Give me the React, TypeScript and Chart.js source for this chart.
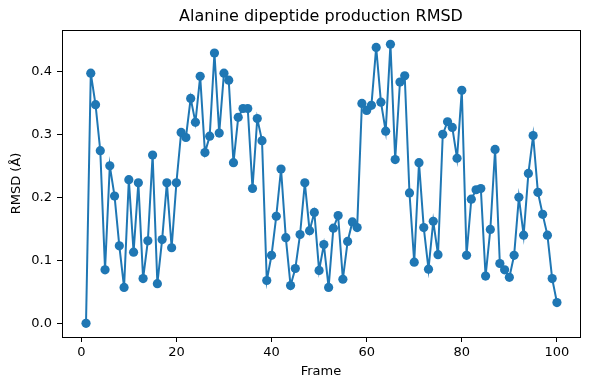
import React, { useEffect, useRef } from "react";
import { Chart, registerables } from "chart.js";

Chart.register(...registerables);

const frames: number[] = Array.from({ length: 100 }, (_, i) => i + 1);
const rmsd: number[] = [
  0.0, 0.397, 0.347, 0.274, 0.085, 0.25, 0.202, 0.123, 0.057, 0.228,
  0.113, 0.223, 0.071, 0.131, 0.267, 0.063, 0.133, 0.223, 0.12, 0.223,
  0.303, 0.295, 0.357, 0.319, 0.392, 0.271, 0.297, 0.429, 0.302, 0.397,
  0.386, 0.255, 0.327, 0.341, 0.341, 0.214, 0.325, 0.29, 0.068, 0.108,
  0.17, 0.245, 0.136, 0.06, 0.087, 0.141, 0.223, 0.147, 0.176, 0.084,
  0.125, 0.057, 0.151, 0.171, 0.07, 0.13, 0.161, 0.152, 0.349, 0.338,
  0.346, 0.438, 0.351, 0.305, 0.443, 0.26, 0.383, 0.393, 0.207, 0.097,
  0.255, 0.152, 0.086, 0.162, 0.109, 0.3, 0.32, 0.311, 0.262, 0.37,
  0.108, 0.197, 0.212, 0.214, 0.075, 0.149, 0.276, 0.095, 0.085, 0.073,
  0.108, 0.2, 0.14, 0.238, 0.298, 0.208, 0.173, 0.14, 0.071, 0.033,
];
const xTicks: number[] = [0, 20, 40, 60, 80, 100];
const yTicks: number[] = [0.0, 0.1, 0.2, 0.3, 0.4];
const titleText = "Alanine dipeptide production RMSD";
const xLabel = "Frame";
const yLabel = "RMSD (Å)";

const FONT = "'DejaVu Sans', sans-serif";

const decorPlugin = {
  id: "decor",
  afterDraw(chart: any) {
    const { ctx, chartArea } = chart;
    const { left, right, top, bottom } = chartArea;
    ctx.save();
    ctx.strokeStyle = "#000";
    ctx.lineWidth = 1;
    ctx.strokeRect(Math.round(left) + 0.5, Math.round(top) + 0.5, Math.round(right - left), Math.round(bottom - top));
    ctx.fillStyle = "#000";
    ctx.textAlign = "center";
    ctx.textBaseline = "middle";
    ctx.font = `16px ${FONT}`;
    ctx.fillText(titleText, (left + right) / 2, 17);
    ctx.font = `13px ${FONT}`;
    ctx.fillText(xLabel, (left + right) / 2, 372);
    ctx.translate(17, (top + bottom) / 2);
    ctx.rotate(-Math.PI / 2);
    ctx.fillText(yLabel, 0, 0);
    ctx.restore();
  },
};

export default function App() {
  const ref = useRef<HTMLCanvasElement | null>(null);
  useEffect(() => {
    document.body.style.margin = "0";
    const canvas = ref.current!;
    const chart = new Chart(canvas, {
      type: "line",
      data: {
        datasets: [
          {
            data: frames.map((f, i) => ({ x: f, y: rmsd[i] })),
            borderColor: "#1f77b4",
            backgroundColor: "#1f77b4",
            borderWidth: 2,
            pointRadius: 4.6,
            pointBorderWidth: 0,
            pointBackgroundColor: "#1f77b4",
            tension: 0,
          },
        ],
      },
      options: {
        animation: false,
        responsive: false,
        maintainAspectRatio: false,
        layout: { padding: { top: 30, right: 10, left: 0, bottom: 0 } },
        plugins: { legend: { display: false }, title: { display: false }, tooltip: { enabled: false } },
        scales: {
          x: {
            type: "linear",
            min: -4.05,
            max: 104.85,
            afterBuildTicks: (s: any) => {
              s.ticks = xTicks.map((v) => ({ value: v }));
            },
            afterFit: (s: any) => {
              s.height = 53;
            },
            grid: { drawOnChartArea: false, tickLength: 5, tickColor: "#000", tickWidth: 1 },
            border: { display: false },
            ticks: { color: "#000", font: { family: FONT, size: 13 }, padding: 3, maxRotation: 0, autoSkip: false },
          },
          y: {
            type: "linear",
            min: -0.0217,
            max: 0.4656,
            afterBuildTicks: (s: any) => {
              s.ticks = yTicks.map((v) => ({ value: v }));
            },
            afterFit: (s: any) => {
              s.width = 62;
            },
            grid: { drawOnChartArea: false, tickLength: 5, tickColor: "#000", tickWidth: 1 },
            border: { display: false },
            ticks: {
              color: "#000",
              font: { family: FONT, size: 13 },
              padding: 5,
              autoSkip: false,
              callback: (v: any) => Number(v).toFixed(1),
            },
          },
        },
      },
      plugins: [decorPlugin],
    } as any);
    return () => chart.destroy();
  }, []);
  return (
    <div style={{ position: "absolute", left: 0, top: 0, width: 590, height: 390, background: "#fff" }}>
      <canvas ref={ref} width={590} height={390} style={{ width: 590, height: 390 }} />
    </div>
  );
}
